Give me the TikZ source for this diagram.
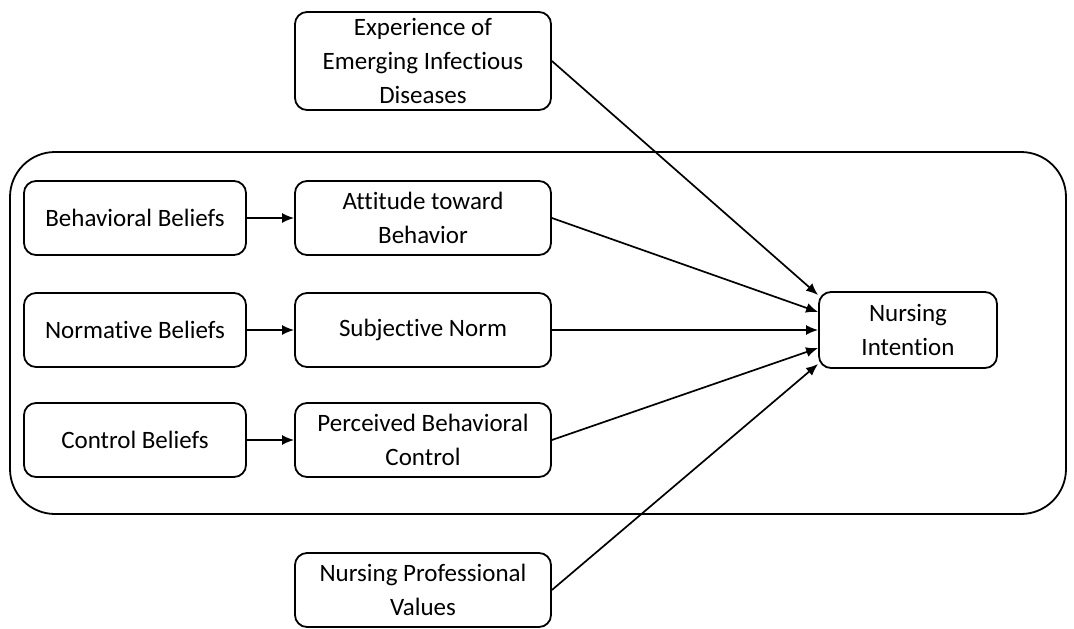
\documentclass[tikz,border=0pt]{standalone}
\usepackage{fontspec}
\setmainfont{Carlito}[Ligatures=CommonOff]
\usetikzlibrary{arrows.meta,calc}
\begin{document}
\begin{tikzpicture}[x=1pt,y=-1pt,
  box/.style={draw, line width=1.8pt, rounded corners=12pt, align=center, inner sep=0pt,
    font=\fontsize{25}{34}\selectfont, text=black},
  lbox/.style={box, minimum width=222pt, minimum height=74pt},
  mbox/.style={box, minimum width=256pt, minimum height=74pt},
  arr/.style={line width=1.7pt, -{Latex[length=12pt,width=10pt]}}]
\useasboundingbox (0,0) rectangle (1074,629);
\draw[line width=1.8pt, rounded corners=45pt] (10,152) rectangle (1066,514);
\node[box, minimum width=256pt, minimum height=98pt] (exp) at (423,61) {Experience of\\Emerging Infectious\\Diseases};
\node[lbox] (bb) at (135,218) {Behavioral Beliefs};
\node[mbox] (att) at (423,218) {Attitude toward\\Behavior};
\node[lbox] (nb) at (135,330) {Normative Beliefs};
\node[mbox] (sn) at (423,330) {Subjective Norm};
\node[lbox] (cb) at (135,440) {Control Beliefs};
\node[mbox] (pbc) at (423,440) {Perceived Behavioral\\Control};
\node[box, minimum width=178pt, minimum height=76pt] (ni) at (908,330) {Nursing\\Intention};
\node[mbox] (npv) at (423,590) {Nursing Professional\\Values};
\coordinate (t1) at ($(ni.west)+(0,-35)$);
\coordinate (t2) at ($(ni.west)+(0,-18)$);
\coordinate (t3) at (ni.west);
\coordinate (t4) at ($(ni.west)+(0,18)$);
\coordinate (t5) at ($(ni.west)+(0,34)$);
\draw[arr] (bb) -- (att);
\draw[arr] (nb) -- (sn);
\draw[arr] (cb) -- (pbc);
\draw[arr] (exp.east) -- (t1);
\draw[arr] (att.east) -- (t2);
\draw[arr] (sn.east) -- (t3);
\draw[arr] (pbc.east) -- (t4);
\draw[arr] (npv.east) -- (t5);
\end{tikzpicture}
\end{document}
